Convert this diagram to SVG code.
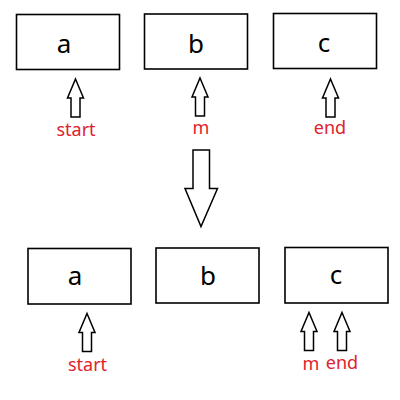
<svg xmlns="http://www.w3.org/2000/svg" width="400" height="400" viewBox="0 0 400 400">
<style>
.box{fill:#fff;stroke:#000;stroke-width:1.6}
.lbl{font-family:"Noto Sans","Open Sans",sans-serif;font-size:26px;fill:#000;text-anchor:middle}
.red{font-family:"Noto Sans","Open Sans",sans-serif;font-size:18px;fill:#e0222c;text-anchor:middle}
.arr{fill:#fff;stroke:#000;stroke-width:1.5;stroke-linejoin:miter}
</style>
<defs>
<path id="up" class="arr" d="M0,0 L8,19 L4.5,19 L4.5,38 L-4.5,38 L-4.5,19 L-8,19 Z"/>
</defs>
<rect width="400" height="400" fill="#fff"/>
<g id="top-a"><rect class="box" x="16.5" y="14.5" width="103" height="55"/><text class="lbl" x="64" y="53">a</text></g>
<g id="top-b"><rect class="box" x="144.5" y="14" width="103" height="55"/><text class="lbl" x="196" y="53">b</text></g>
<g id="top-c"><rect class="box" x="273.5" y="13.5" width="103" height="55"/><text class="lbl" x="324" y="52">c</text></g>
<g id="bot-a"><rect class="box" x="28" y="248.5" width="103" height="55.5"/><text class="lbl" x="75" y="285">a</text></g>
<g id="bot-b"><rect class="box" x="156" y="248" width="103" height="55"/><text class="lbl" x="208" y="285">b</text></g>
<g id="bot-c"><rect class="box" x="285" y="247.5" width="103" height="55.5"/><text class="lbl" x="336" y="284">c</text></g>
<g id="connectors">
<use href="#up" x="75.5" y="79"/>
<use href="#up" x="200" y="78"/>
<use href="#up" x="330.5" y="79"/>
<path class="arr" d="M193,150 L209.5,150 L209.5,188.5 L217.5,188.5 L201,226.5 L185,188.5 L193,188.5 Z"/>
<use href="#up" x="87" y="313.5"/>
<use href="#up" x="309" y="312.5"/>
<use href="#up" x="342" y="312.5"/>
</g>
<g id="labels">
<text class="red" x="76" y="136">start</text>
<text class="red" x="201" y="134">m</text>
<text class="red" x="330" y="134">end</text>
<text class="red" x="87.5" y="370.5">start</text>
<text class="red" x="311" y="370">m</text>
<text class="red" x="342" y="368.5">end</text>
</g>
</svg>
